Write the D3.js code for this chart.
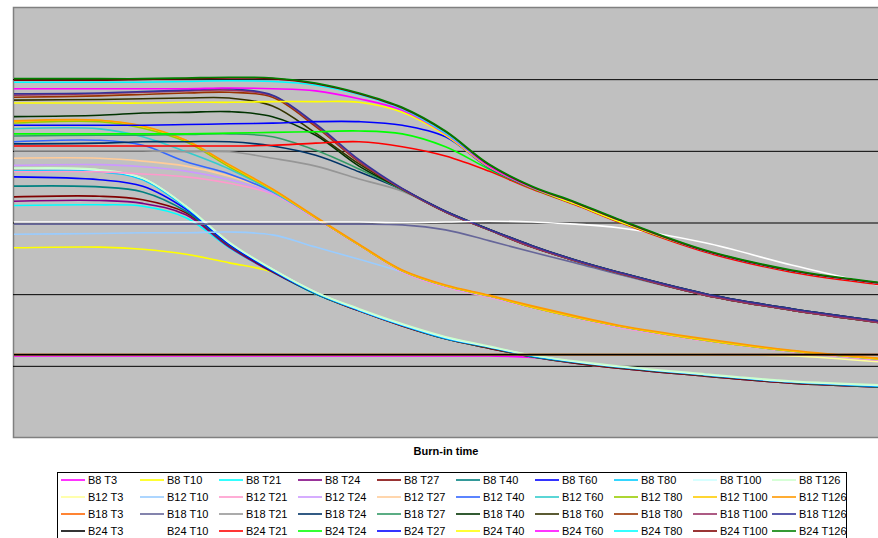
<!DOCTYPE html>
<html>
<head>
<meta charset="utf-8">
<script src="https://cdn.jsdelivr.net/npm/d3@7"></script>
<style>
body { margin: 0; background: #fff; }
svg { display: block; font-family: "Liberation Sans", Arial, sans-serif; }
</style>
</head>
<body>
<div class="canvas"></div>
<script>
// burn-in time samples (axis labels are hidden in the original)
var burnIn = [0, 10, 15, 20, 25, 30, 35, 40, 45, 50, 55, 60, 65, 70, 80, 90, 100];

// B8 family
var b8_t3   = [1.13,1.13,1.13,1.13,1.13,1.13,1.13,1.13,1.13,1.13,1.13,1.11,1.03,0.96,0.85,0.75,0.70];
var b8_t10  = [2.64,2.65,2.62,2.55,2.43,2.30,2.00,1.76,1.55,1.37,1.24,1.12,1.03,0.96,0.85,0.75,0.70];
var b8_t21  = [3.23,3.24,3.22,3.06,2.64,2.30,1.99,1.76,1.55,1.37,1.24,1.12,1.03,0.96,0.85,0.75,0.70];
var b8_t24  = [3.29,3.30,3.26,3.10,2.65,2.30,2.00,1.76,1.55,1.37,1.24,1.12,1.03,0.96,0.85,0.75,0.70];
var b8_t27  = [3.35,3.36,3.31,3.13,2.67,2.31,2.00,1.76,1.55,1.37,1.24,1.12,1.03,0.96,0.85,0.75,0.70];
var b8_t40  = [3.50,3.49,3.42,3.15,2.68,2.32,2.00,1.77,1.56,1.37,1.25,1.12,1.04,0.97,0.86,0.76,0.70];
var b8_t60  = [3.63,3.59,3.50,3.18,2.69,2.32,2.01,1.77,1.56,1.38,1.26,1.13,1.05,0.98,0.87,0.77,0.71];
var b8_t80  = [3.71,3.70,3.59,3.20,2.71,2.33,2.01,1.77,1.56,1.38,1.26,1.13,1.05,0.98,0.87,0.77,0.71];
var b8_t100 = [3.75,3.72,3.61,3.22,2.71,2.34,2.02,1.78,1.57,1.39,1.26,1.14,1.05,0.98,0.87,0.77,0.72];
var b8_t126 = [3.75,3.73,3.61,3.22,2.72,2.34,2.02,1.79,1.58,1.40,1.27,1.14,1.06,0.99,0.88,0.78,0.73];

// B12 family
var b12_t3   = [1.15,1.15,1.15,1.15,1.15,1.15,1.15,1.15,1.15,1.15,1.15,1.15,1.15,1.15,1.15,1.13,1.05];
var b12_t10  = [2.83,2.84,2.85,2.85,2.86,2.82,2.65,2.48,2.30,2.09,1.97,1.81,1.67,1.55,1.35,1.20,1.09];
var b12_t21  = [3.70,3.70,3.67,3.63,3.54,3.39,3.04,2.67,2.30,2.09,1.95,1.80,1.66,1.53,1.34,1.19,1.07];
var b12_t24  = [3.79,3.80,3.77,3.71,3.59,3.40,3.05,2.68,2.31,2.10,1.96,1.81,1.67,1.54,1.35,1.20,1.08];
var b12_t27  = [3.89,3.89,3.85,3.78,3.64,3.42,3.06,2.68,2.32,2.11,1.97,1.81,1.67,1.55,1.35,1.20,1.09];
var b12_t40  = [4.12,4.14,4.07,3.84,3.67,3.42,3.06,2.68,2.32,2.11,1.97,1.81,1.67,1.55,1.35,1.20,1.09];
var b12_t60  = [4.30,4.30,4.19,3.98,3.74,3.43,3.06,2.68,2.32,2.11,1.97,1.81,1.67,1.55,1.35,1.20,1.09];
var b12_t80  = [4.38,4.40,4.31,4.12,3.77,3.45,3.06,2.68,2.32,2.11,1.97,1.81,1.67,1.55,1.35,1.20,1.09];
var b12_t100 = [4.40,4.42,4.33,4.14,3.79,3.45,3.06,2.68,2.32,2.11,1.97,1.81,1.67,1.55,1.35,1.20,1.09];
var b12_t126 = [4.41,4.42,4.34,4.14,3.80,3.46,3.07,2.69,2.33,2.12,1.98,1.83,1.69,1.56,1.37,1.21,1.10];

// B18 family
var b18_t3   = [1.15,1.15,1.15,1.15,1.15,1.15,1.15,1.15,1.15,1.15,1.15,1.15,1.15,1.15,1.15,1.15,1.15];
var b18_t10  = [2.97,2.97,2.97,2.97,2.97,2.97,2.97,2.97,2.96,2.89,2.74,2.58,2.43,2.27,1.98,1.77,1.60];
var b18_t21  = [3.99,3.99,3.99,3.98,3.98,3.89,3.78,3.60,3.43,3.14,2.89,2.65,2.46,2.29,1.98,1.77,1.60];
var b18_t24  = [4.09,4.10,4.12,4.12,4.12,4.06,3.93,3.70,3.45,3.15,2.90,2.67,2.47,2.30,2.00,1.79,1.62];
var b18_t27  = [4.20,4.21,4.21,4.22,4.23,4.19,4.00,3.74,3.45,3.14,2.89,2.65,2.46,2.29,1.98,1.77,1.60];
var b18_t40  = [4.47,4.49,4.52,4.53,4.54,4.47,4.21,3.78,3.46,3.15,2.90,2.67,2.47,2.30,2.00,1.79,1.62];
var b18_t60  = [4.70,4.71,4.72,4.73,4.73,4.62,4.24,3.81,3.46,3.14,2.89,2.65,2.46,2.29,1.98,1.77,1.60];
var b18_t80  = [4.74,4.76,4.78,4.80,4.81,4.74,4.33,3.84,3.46,3.14,2.89,2.65,2.46,2.29,1.98,1.77,1.60];
var b18_t100 = [4.77,4.79,4.81,4.83,4.84,4.76,4.35,3.85,3.46,3.14,2.89,2.65,2.46,2.29,1.98,1.77,1.60];
var b18_t126 = [4.79,4.80,4.82,4.84,4.86,4.77,4.37,3.87,3.47,3.15,2.90,2.67,2.47,2.30,2.00,1.79,1.62];

// B24 family
var b24_t3   = [1.15,1.15,1.15,1.15,1.15,1.15,1.15,1.15,1.15,1.15,1.15,1.15,1.15,1.15,1.15,1.15,1.15];
var b24_t10  = [3.00,3.00,3.00,3.00,3.00,3.00,3.00,3.00,2.99,3.00,3.01,3.00,2.97,2.92,2.71,2.40,2.12];
var b24_t21  = [4.06,4.06,4.06,4.06,4.06,4.07,4.10,4.12,4.05,3.92,3.71,3.46,3.24,3.00,2.58,2.30,2.13];
var b24_t24  = [4.23,4.23,4.23,4.23,4.24,4.25,4.26,4.27,4.23,4.05,3.74,3.47,3.25,3.01,2.60,2.32,2.15];
var b24_t27  = [4.35,4.35,4.35,4.36,4.37,4.38,4.40,4.40,4.35,4.19,3.76,3.48,3.27,3.03,2.60,2.32,2.15];
var b24_t40  = [4.66,4.66,4.66,4.67,4.67,4.68,4.68,4.67,4.53,4.21,3.77,3.48,3.25,3.01,2.60,2.32,2.15];
var b24_t60  = [4.86,4.86,4.86,4.86,4.87,4.86,4.83,4.72,4.56,4.23,3.78,3.48,3.27,3.03,2.60,2.32,2.15];
var b24_t80  = [4.95,4.95,4.95,4.96,4.97,4.96,4.91,4.78,4.58,4.24,3.80,3.49,3.27,3.03,2.60,2.32,2.15];
var b24_t100 = [4.98,4.98,4.99,5.00,5.01,5.00,4.93,4.79,4.59,4.26,3.80,3.49,3.27,3.03,2.60,2.32,2.15];
var b24_t126 = [5.00,5.00,5.00,5.01,5.02,5.01,4.94,4.80,4.60,4.27,3.81,3.50,3.28,3.04,2.61,2.33,2.16];

var seriesNames = [
    'B8 T3','B8 T10','B8 T21','B8 T24','B8 T27','B8 T40','B8 T60','B8 T80','B8 T100','B8 T126',
    'B12 T3','B12 T10','B12 T21','B12 T24','B12 T27','B12 T40','B12 T60','B12 T80','B12 T100','B12 T126',
    'B18 T3','B18 T10','B18 T21','B18 T24','B18 T27','B18 T40','B18 T60','B18 T80','B18 T100','B18 T126',
    'B24 T3','B24 T10','B24 T21','B24 T24','B24 T27','B24 T40','B24 T60','B24 T80','B24 T100','B24 T126'
];
var seriesValues = [
    b8_t3, b8_t10, b8_t21, b8_t24, b8_t27, b8_t40, b8_t60, b8_t80, b8_t100, b8_t126,
    b12_t3, b12_t10, b12_t21, b12_t24, b12_t27, b12_t40, b12_t60, b12_t80, b12_t100, b12_t126,
    b18_t3, b18_t10, b18_t21, b18_t24, b18_t27, b18_t40, b18_t60, b18_t80, b18_t100, b18_t126,
    b24_t3, b24_t10, b24_t21, b24_t24, b24_t27, b24_t40, b24_t60, b24_t80, b24_t100, b24_t126
];
var seriesColors = [
    '#FF00FF','#FFFF00','#00FFFF','#800080','#800000','#008080','#0000FF','#00CCFF','#CCFFFF','#CCFFCC',
    '#FFFF99','#99CCFF','#FF99CC','#CC99FF','#FFCC99','#3366FF','#33CCCC','#99CC00','#FFCC00','#FF9900',
    '#FF6600','#666699','#969696','#003366','#339966','#003300','#333300','#993300','#993366','#333399',
    '#000000','#FFFFFF','#FF0000','#00FF00','#0000FF','#FFFF00','#FF00FF','#00FFFF','#800000','#008000'
];
var gridValues = [1, 2, 3, 4, 5];

// where does it live
var width = 878, height = 538,
    plot = { left: 13, top: 7, right: 878, bottom: 437 };

var svg = d3.select('.canvas').append('svg')
    .attr('width', width)
    .attr('height', height);

var x = d3.scaleLinear().domain([0, 100]).range([plot.left, plot.right]);
var y = d3.scaleLinear().domain([0, 6]).range([plot.bottom, plot.top]);

// plot background
svg.append('rect')
    .attr('x', plot.left + 0.5)
    .attr('y', plot.top + 0.5)
    .attr('width', plot.right - plot.left + 10)
    .attr('height', plot.bottom - plot.top)
    .attr('fill', '#C0C0C0')
    .attr('stroke', '#808080')
    .attr('stroke-width', 1.5);

svg.append('clipPath').attr('id', 'clip')
    .append('rect')
    .attr('x', plot.left + 1).attr('y', plot.top + 1)
    .attr('width', plot.right - plot.left).attr('height', plot.bottom - plot.top - 2);

// horizontal gridlines
svg.append('g')
    .attr('class', 'grid')
    .call(d3.axisLeft(y).tickValues(gridValues)
        .tickSize(-(plot.right - plot.left))
        .tickFormat(''))
    .attr('transform', 'translate(' + plot.left + ',0)')
    .call(function (g) {
        g.select('.domain').remove();
        g.selectAll('line').attr('stroke', '#000').attr('stroke-width', 1)
            .attr('transform', 'translate(0,0.5)');
    });

// smoothed lines, like the spreadsheet's "smoothed line" option
var line = d3.line()
    .x(function (d, i) { return x(burnIn[i]); })
    .y(function (d) { return y(d); })
    .curve(d3.curveCatmullRom.alpha(0.5));

svg.append('g')
    .attr('clip-path', 'url(#clip)')
    .selectAll('path')
    .data(seriesValues)
    .enter()
    .append('path')
    .attr('d', line)
    .attr('fill', 'none')
    .attr('stroke', function (d, i) { return seriesColors[i]; })
    .attr('stroke-width', 1.6);

// axis title
svg.append('text')
    .attr('x', 446)
    .attr('y', 455)
    .attr('text-anchor', 'middle')
    .attr('font-size', 11)
    .attr('font-weight', 'bold')
    .text('Burn-in time');

// legend
var legend = svg.append('g');
legend.append('rect')
    .attr('x', 57.5).attr('y', 472.5)
    .attr('width', 789).attr('height', 80)
    .attr('fill', '#fff')
    .attr('stroke', '#000');

var items = legend.selectAll('g.item')
    .data(seriesNames)
    .enter()
    .append('g')
    .attr('transform', function (d, i) {
        return 'translate(' + (61 + (i % 10) * 79) + ',' + (480 + Math.floor(i / 10) * 17) + ')';
    });

items.append('line')
    .attr('x1', 0).attr('x2', 24)
    .attr('stroke', function (d, i) { return seriesColors[i]; })
    .attr('stroke-width', 1.6);

items.append('text')
    .attr('x', 27)
    .attr('y', 4)
    .attr('font-size', 11)
    .text(function (d) { return d; });
</script>
</body>
</html>
